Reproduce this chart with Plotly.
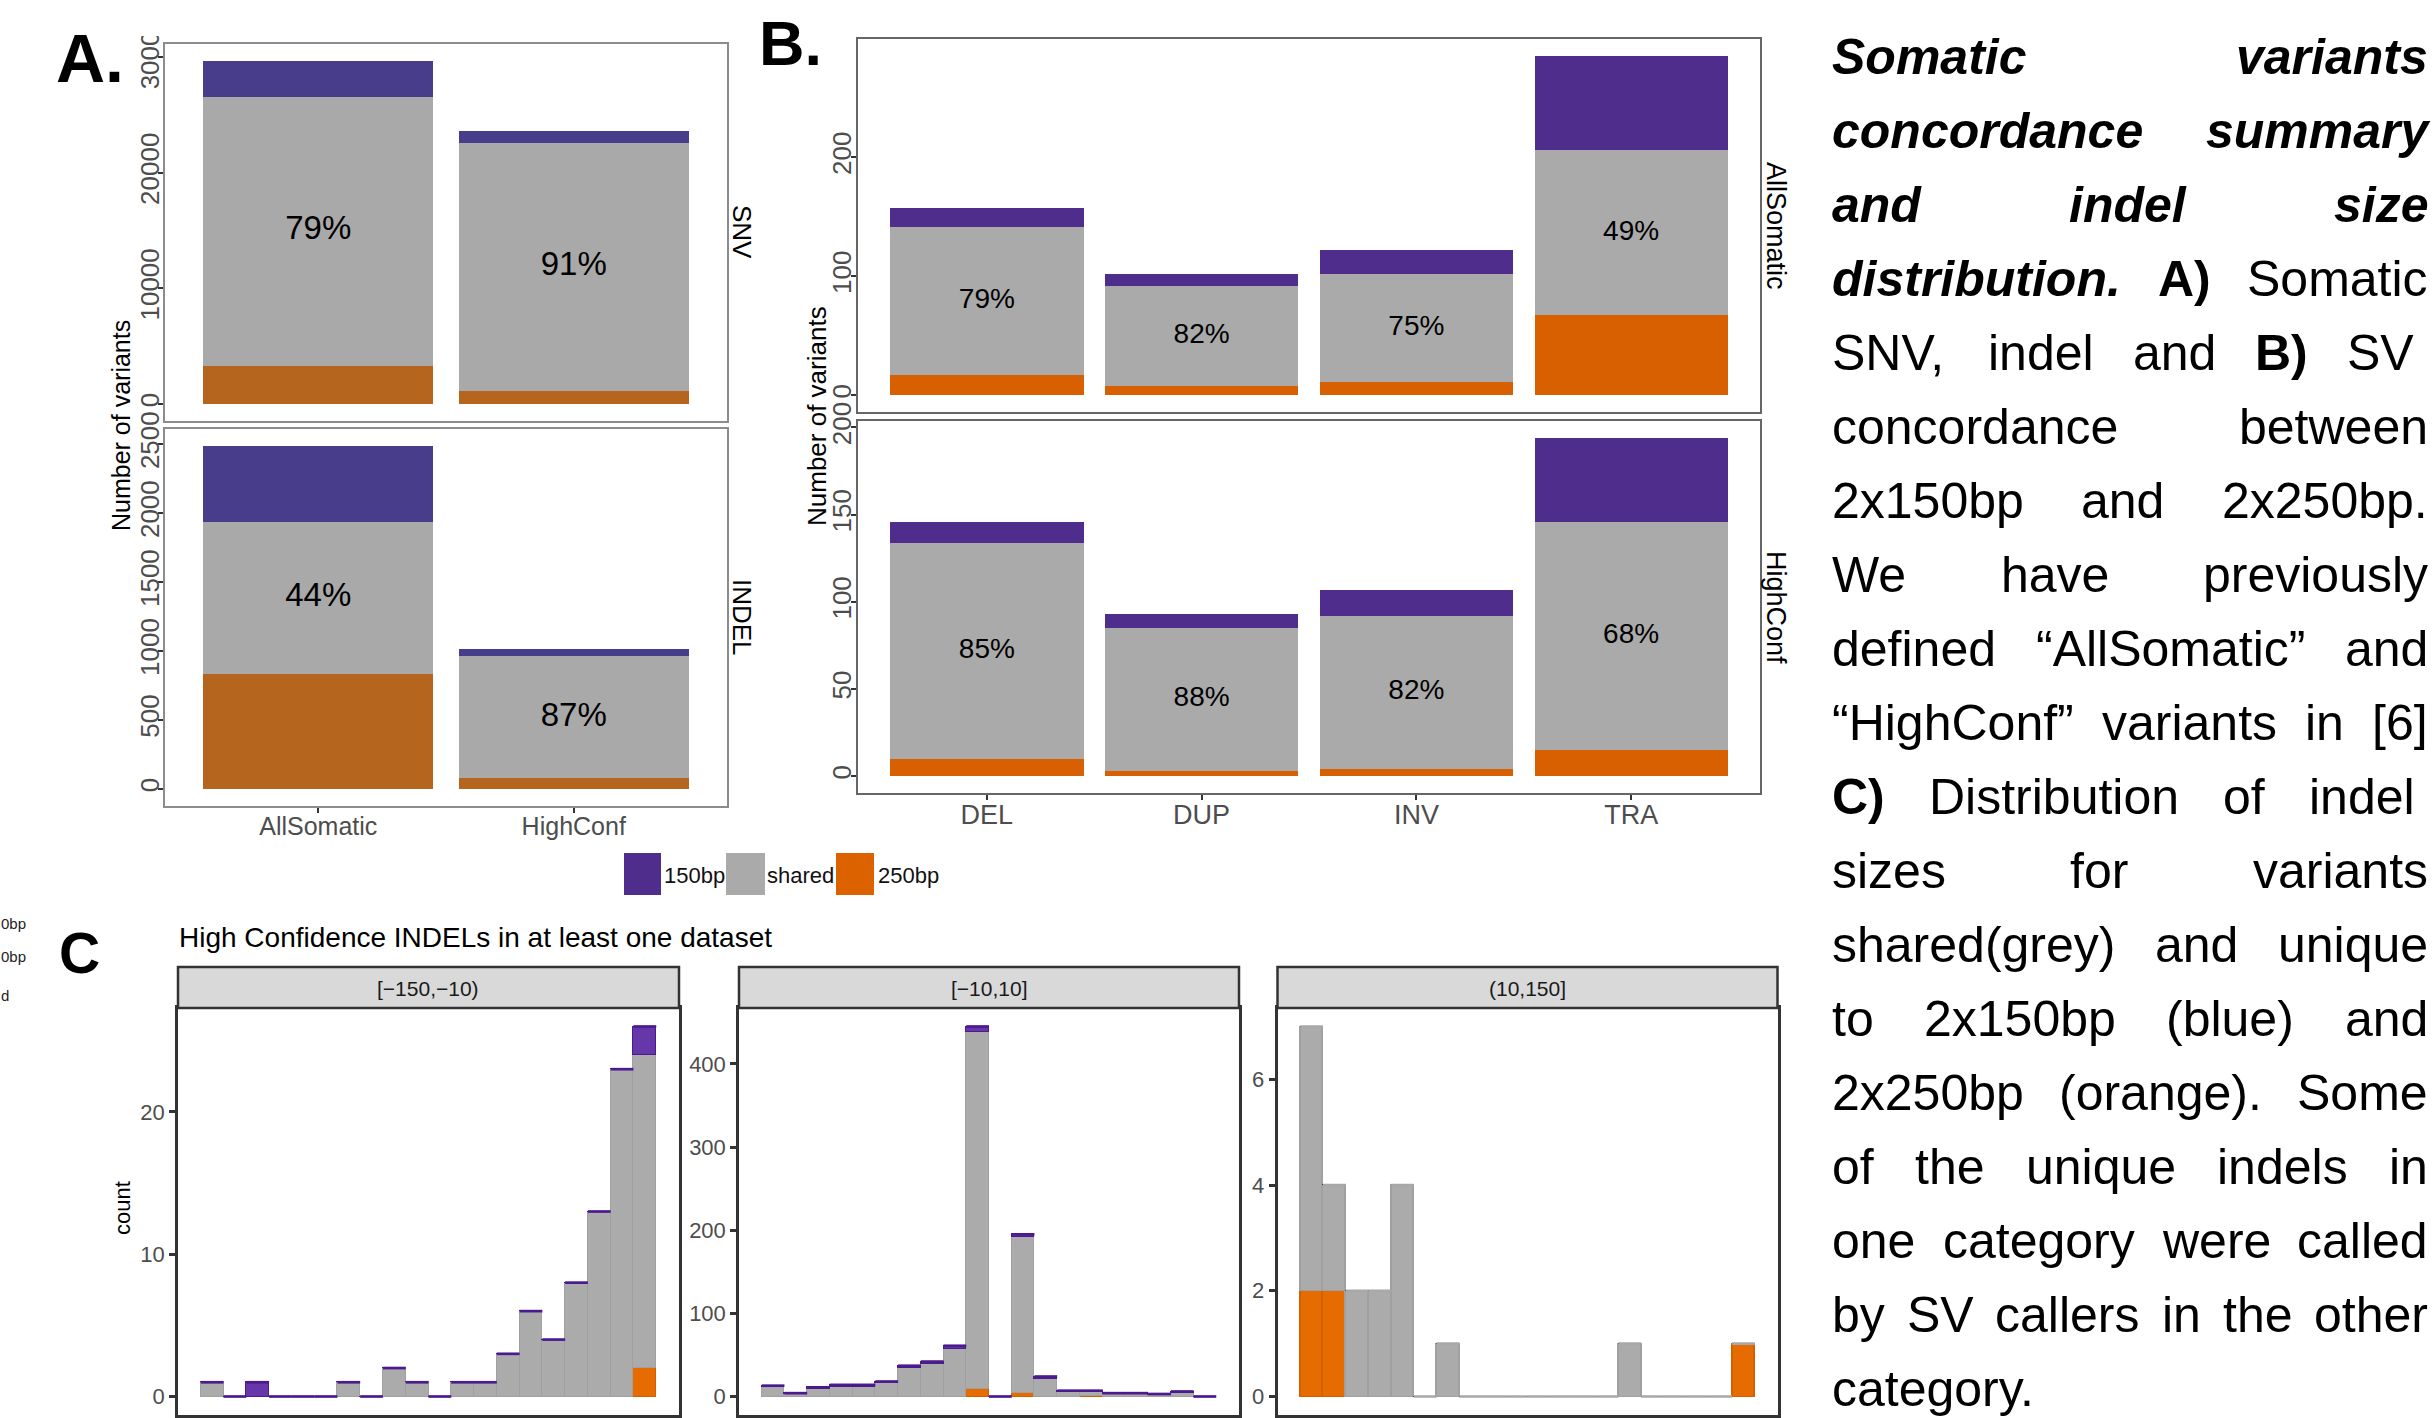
import plotly.graph_objects as go

W, H = 2433, 1418
FONT = "Liberation Sans, Arial, Helvetica, sans-serif"

# ---------------- data: panel A (SNV / INDEL concordance) ----------------
A_cats = ["AllSomatic", "HighConf"]
A_snv_250 = [3290, 1125]
A_snv_shared = [23290, 21425]
A_snv_150 = [3070, 1066]
A_snv_pct = ["79%", "91%"]
A_indel_250 = [835, 77]
A_indel_shared = [1098, 884]
A_indel_150 = [552, 53]
A_indel_pct = ["44%", "87%"]
A_snv_ticks = [0, 10000, 20000, 30000]
A_indel_ticks = [0, 500, 1000, 1500, 2000, 2500]

# ---------------- data: panel B (SV concordance) ----------------
B_cats = ["DEL", "DUP", "INV", "TRA"]
B_all_250 = [17, 8, 11, 67]
B_all_shared = [124, 84, 91, 139]
B_all_150 = [16, 10, 20, 79]
B_all_pct = ["79%", "82%", "75%", "49%"]
B_hc_250 = [10, 3, 4, 15]
B_hc_shared = [124, 82, 88, 131]
B_hc_150 = [12, 8, 15, 48]
B_hc_pct = ["85%", "88%", "82%", "68%"]
B_all_ticks = [0, 100, 200, 300]
B_hc_ticks = [0, 50, 100, 150, 200]

# ---------------- data: panel C (indel size histograms, 20 bins each) ----------------
C1_label = "[\u2212150,\u221210)"
C1_start, C1_width = -149, 7.1
C1_250 = [0, 0, 0, 0, 0, 0, 0, 0, 0, 0, 0, 0, 0, 0, 0, 0, 0, 0, 0, 2]
C1_shared = [1, 0, 0, 0, 0, 0, 1, 0, 2, 1, 0, 1, 1, 3, 6, 4, 8, 13, 23, 22]
C1_150 = [0, 0, 1, 0, 0, 0, 0, 0, 0, 0, 0, 0, 0, 0, 0, 0, 0, 0, 0, 2]
C1_ticks = [-150, -120, -90, -60, -30]
C1_yticks = [0, 10, 20]

C2_label = "[\u221210,10]"
C2_start, C2_width = -10, 1
C2_250 = [0, 0, 0, 0, 0, 0, 0, 0, 0, 9, 0, 4, 0, 0, 1, 0, 0, 0, 0, 0]
C2_shared = [11, 3, 9, 12, 12, 16, 34, 39, 57, 429, 0, 188, 21, 6, 5, 3, 3, 2, 4, 0]
C2_150 = [2, 1, 2, 2, 2, 2, 3, 3, 4, 7, 0, 3, 3, 1, 1, 1, 1, 1, 2, 0]
C2_ticks = [-10, -5, 0, 5, 10]
C2_yticks = [0, 100, 200, 300, 400]

C3_label = "(10,150]"
C3_start, C3_width = 14, 7.3
C3_250 = [2, 2, 0, 0, 0, 0, 0, 0, 0, 0, 0, 0, 0, 0, 0, 0, 0, 0, 0, 1]
C3_shared = [5, 2, 2, 2, 4, 0, 1, 0, 0, 0, 0, 0, 0, 0, 1, 0, 0, 0, 0, 0]
C3_150 = [0] * 20
C3_ticks = [40, 80, 120, 160]
C3_yticks = [0, 2, 4, 6]

LEGEND_LABELS = ["150bp", "shared", "250bp"]
C_TITLE = "High Confidence INDELs in at least one dataset"

CAPTION = [
    [("Somatic", "bi"), ("variants", "bi")],
    [("concordance", "bi"), ("summary", "bi")],
    [("and", "bi"), ("indel", "bi"), ("size", "bi")],
    [("distribution.", "bi"), ("A)", "b"), ("Somatic", "r")],
    [("SNV,", "r"), ("indel", "r"), ("and", "r"), ("B)", "b"), ("SV", "r")],
    [("concordance", "r"), ("between", "r")],
    [("2x150bp", "r"), ("and", "r"), ("2x250bp.", "r")],
    [("We", "r"), ("have", "r"), ("previously", "r")],
    [("defined", "r"), ("\u201cAllSomatic\u201d", "r"), ("and", "r")],
    [("\u201cHighConf\u201d", "r"), ("variants", "r"), ("in", "r"), ("[6]", "r")],
    [("C)", "b"), ("Distribution", "r"), ("of", "r"), ("indel", "r")],
    [("sizes", "r"), ("for", "r"), ("variants", "r")],
    [("shared(grey)", "r"), ("and", "r"), ("unique", "r")],
    [("to", "r"), ("2x150bp", "r"), ("(blue)", "r"), ("and", "r")],
    [("2x250bp", "r"), ("(orange).", "r"), ("Some", "r")],
    [("of", "r"), ("the", "r"), ("unique", "r"), ("indels", "r"), ("in", "r")],
    [("one", "r"), ("category", "r"), ("were", "r"), ("called", "r")],
    [("by", "r"), ("SV", "r"), ("callers", "r"), ("in", "r"), ("the", "r"), ("other", "r")],
    [("category.", "r")],
]
TRAILING_SPACE_LINES = [4, 10]

# ---------------- styles ----------------
A_COL = ["#B5651D", "#A9A9A9", "#483D8B"]
B_COL = ["#D96000", "#AAAAAA", "#4F2D8C"]
C_COL = ["#E66B00", "#ABABAB", "#6537A8"]
C_LINE = ["#D45F00", "#A0A0A0", "#4B1A8E"]
LEG_COL = ["#4F2D8C", "#AAAAAA", "#DC6200"]


def px_x(p):
    return p / W


def px_y(p):
    return 1 - p / H


fig = go.Figure()
annotations = []
shapes = []


def ann(text, x, y, size, color="black", xanchor="center", yanchor="middle", angle=0):
    annotations.append(dict(text=text, x=px_x(x), y=px_y(y), xref="paper", yref="paper",
                            showarrow=False, xanchor=xanchor, yanchor=yanchor, textangle=angle,
                            borderpad=0, font=dict(size=size, color=color, family=FONT)))


def stacked(ax, cats, layers, colors, pct, pct_size):
    xa, ya = ax
    for vals, col in zip(layers, colors):
        fig.add_trace(go.Bar(x=cats, y=vals, width=0.9, marker=dict(color=col, line=dict(width=0)),
                             xaxis=xa, yaxis=ya, showlegend=False, hoverinfo="skip"))
    ymid = [o + s / 2 for o, s in zip(layers[0], layers[1])]
    fig.add_trace(go.Scatter(x=cats, y=ymid, mode="text", text=pct,
                             textfont=dict(size=pct_size, color="black", family=FONT),
                             xaxis=xa, yaxis=ya, showlegend=False, hoverinfo="skip"))
    totals = [a + b + c for a, b, c in zip(*layers)]
    return max(totals)


def hist(ax, start, width, layers, top_color):
    xa, ya = ax
    centers = [start + width * i for i in range(len(layers[0]))]
    for vals, col, lc in zip(layers, C_COL, C_LINE):
        fig.add_trace(go.Bar(x=centers, y=vals, width=width,
                             marker=dict(color=col, line=dict(width=1.2, color=lc)),
                             xaxis=xa, yaxis=ya, showlegend=False, hoverinfo="skip"))
    totals = [a + b + c for a, b, c in zip(*layers)]
    lx, ly = [], []
    for c, t in zip(centers, totals):
        lx += [c - width / 2, c + width / 2, None]
        ly += [t, t, None]
    fig.add_trace(go.Scatter(x=lx, y=ly, mode="lines", line=dict(color=top_color, width=2.7),
                             xaxis=xa, yaxis=ya, showlegend=False, hoverinfo="skip"))
    return max(totals), centers


# ---- panel A
mA1 = stacked(("x", "y"), A_cats, [A_snv_250, A_snv_shared, A_snv_150], A_COL, A_snv_pct, 33)
mA2 = stacked(("x2", "y2"), A_cats, [A_indel_250, A_indel_shared, A_indel_150], A_COL, A_indel_pct, 33)
# ---- panel B
mB1 = stacked(("x3", "y3"), B_cats, [B_all_250, B_all_shared, B_all_150], B_COL, B_all_pct, 28)
mB2 = stacked(("x4", "y4"), B_cats, [B_hc_250, B_hc_shared, B_hc_150], B_COL, B_hc_pct, 28)
# ---- panel C
mC1, c1 = hist(("x5", "y5"), C1_start, C1_width, [C1_250, C1_shared, C1_150], "#4B1A8E")
mC2, c2 = hist(("x6", "y6"), C2_start, C2_width, [C2_250, C2_shared, C2_150], "#4B1A8E")
mC3, c3 = hist(("x7", "y7"), C3_start, C3_width, [C3_250, C3_shared, C3_150], "#A8A8A8")


def yax(dom, m, ticks, anchor, angle, size, lc, lw, tl, standoff=0, color="#4D4D4D"):
    return dict(domain=[px_y(dom[1]), px_y(dom[0])], range=[-0.05 * m, 1.05 * m], anchor=anchor,
                tickvals=ticks, ticktext=[str(t) for t in ticks], tickangle=angle,
                tickfont=dict(size=size, color=color, family=FONT), ticks="outside", ticklen=tl,
                tickwidth=lw, tickcolor="#333333", showline=True, mirror=True, linecolor=lc,
                linewidth=lw, showgrid=False, zeroline=False, automargin=False, fixedrange=True,
                ticklabelstandoff=standoff)


def xcat(dom, n, anchor, labels, size, lc, lw):
    return dict(domain=[px_x(dom[0]), px_x(dom[1])], type="category", range=[-0.6, n - 0.4],
                anchor=anchor, showticklabels=labels, ticks="outside" if labels else "",
                ticklen=5, tickwidth=1.5, tickcolor="#333333", ticklabelstandoff=-8,
                tickfont=dict(size=size, color="#4D4D4D", family=FONT),
                showline=True, mirror=True, linecolor=lc, linewidth=lw, showgrid=False,
                zeroline=False, automargin=False, fixedrange=True)


def xnum(dom, start, width, n, ticks, anchor):
    lo = start - 1.5 * width
    hi = start + (n + 0.5) * width
    # tick labels fall below the cropped bottom edge of the source, so only the marks show
    return dict(domain=[px_x(dom[0]), px_x(dom[1])], range=[lo, hi], anchor=anchor,
                tickvals=ticks, showticklabels=False, ticks="outside", ticklen=6,
                tickwidth=2, tickcolor="#333333",
                showline=True, mirror=True, linecolor="#333333", linewidth=2.5, showgrid=False,
                zeroline=False, automargin=False, fixedrange=True)


AX = (165, 727)
BX = (858, 1760)
C1X, C2X, C3X = (178, 679), (739, 1239), (1277.5, 1777.5)
CY = (1008, 1415)
A_LC, B_LC = "#8C8C8C", "#666666"

layout = dict(
    width=W, height=H, margin=dict(l=0, r=0, t=0, b=0), template="none",
    paper_bgcolor="white", plot_bgcolor="white", barmode="stack", bargap=0, showlegend=False,
    xaxis=xcat(AX, 2, "y", False, 25, A_LC, 1.5),
    yaxis=yax((44, 421), mA1, A_snv_ticks, "x", -90, 26, A_LC, 1.5, 5, -11),
    xaxis2=xcat(AX, 2, "y2", True, 25, A_LC, 1.5),
    yaxis2=yax((429, 806), mA2, A_indel_ticks, "x2", -90, 26, A_LC, 1.5, 5, -11),
    xaxis3=xcat(BX, 4, "y3", False, 27, B_LC, 1.5),
    yaxis3=yax((39, 412), mB1, B_all_ticks, "x3", -90, 26, B_LC, 1.5, 5, -10),
    xaxis4=xcat(BX, 4, "y4", True, 27, B_LC, 1.5),
    yaxis4=yax((421, 793), mB2, B_hc_ticks, "x4", -90, 26, B_LC, 1.5, 5, -10),
    xaxis5=xnum(C1X, C1_start, C1_width, 20, C1_ticks, "y5"),
    yaxis5=yax(CY, mC1, C1_yticks, "x5", 0, 22, "#333333", 2.5, 6),
    xaxis6=xnum(C2X, C2_start, C2_width, 20, C2_ticks, "y6"),
    yaxis6=yax(CY, mC2, C2_yticks, "x6", 0, 22, "#333333", 2.5, 6),
    xaxis7=xnum(C3X, C3_start, C3_width, 20, C3_ticks, "y7"),
    yaxis7=yax(CY, mC3, C3_yticks, "x7", 0, 22, "#333333", 2.5, 6),
)

# ---- panel labels and titles
ann("<b>A.</b>", 55, 58, 68, xanchor="left")
ann("<b>B.</b>", 758, 43, 63, xanchor="left")
ann("<b>C</b>", 58, 953, 57, xanchor="left")
ann("Number of variants", 121, 425, 25, angle=-90)
ann("Number of variants", 817, 416, 26, angle=-90)
ann("count", 122, 1208, 22, angle=-90)
ann("SNV", 742, 232, 26, angle=90)
ann("INDEL", 742, 617, 26, angle=90)
ann("AllSomatic", 1776, 226, 27, angle=90)
ann("HighConf", 1776, 607, 27, angle=90)
ann(C_TITLE, 178, 937, 28, xanchor="left")

# cropped remnant of another legend at the far left
for t, yy in zip(["0bp", "0bp", "d"], [923, 957, 995]):
    ann(t, 0, yy, 15, color="#222222", xanchor="left")

# white cover where the top tick label was cropped in the source
shapes.append(dict(type="rect", xref="paper", yref="paper", x0=px_x(120), x1=px_x(180),
                   y0=px_y(36), y1=px_y(0), fillcolor="white", line=dict(width=0), layer="above"))

# ---- facet strips for panel C
for (x0, x1), lab in zip([C1X, C2X, C3X], [C1_label, C2_label, C3_label]):
    shapes.append(dict(type="rect", xref="paper", yref="paper", x0=px_x(x0), x1=px_x(x1),
                       y0=px_y(1008), y1=px_y(967), fillcolor="#D9D9D9",
                       line=dict(color="#333333", width=2.5), layer="above"))
    ann(lab, (x0 + x1) / 2, 988, 21, color="#1A1A1A")

# ---- shared legend (drawn keys)
key_x = [(624, 661), (726, 765), (836, 874)]
text_x = [663, 766, 877]
for (k0, k1), tx, col, lab in zip(key_x, text_x, LEG_COL, LEGEND_LABELS):
    shapes.append(dict(type="rect", xref="paper", yref="paper", x0=px_x(k0), x1=px_x(k1),
                       y0=px_y(895), y1=px_y(853), fillcolor=col, line=dict(width=0)))
    ann(lab, tx, 875, 22, color="#111111", xanchor="left")

# ---- justified caption on the right
W_REG = {' ': 278, '(': 333, ')': 333, ',': 278, '.': 278, '[': 278, ']': 278,
         '\u201c': 333, '\u201d': 333, '-': 333}
for ch in "0123456789":
    W_REG[ch] = 556
W_REG.update({'A': 667, 'B': 667, 'C': 722, 'D': 722, 'E': 667, 'F': 611, 'G': 778, 'H': 722,
              'I': 278, 'L': 556, 'M': 833, 'N': 722, 'O': 778, 'S': 667, 'V': 667, 'W': 944})
W_REG.update(dict(zip("abcdefghijklmnopqrstuvwxyz",
                      [556, 556, 500, 556, 556, 278, 556, 556, 222, 222, 500, 222, 833, 556, 556,
                       556, 556, 333, 500, 278, 556, 500, 722, 500, 500, 500])))
W_BOLD = {' ': 278, '(': 333, ')': 333, ',': 278, '.': 278, 'A': 722, 'B': 722, 'C': 722, 'S': 667}
W_BOLD.update(dict(zip("abcdefghijklmnopqrstuvwxyz",
                       [556, 611, 556, 611, 556, 333, 611, 611, 278, 278, 556, 278, 889, 611, 611,
                        611, 611, 389, 556, 333, 611, 556, 778, 556, 556, 500])))

CAP_SIZE = 50
CAP_LEFT, CAP_RIGHT = 1831, 2427
CAP_TOP, CAP_STEP = 57, 74


def word_w(word, style):
    table = W_REG if style == "r" else W_BOLD
    return sum(table.get(ch, 556) for ch in word) / 1000 * CAP_SIZE


for i, line in enumerate(CAPTION):
    yy = CAP_TOP + i * CAP_STEP
    widths = [word_w(w, s) for w, s in line]
    right = CAP_RIGHT - (0.278 * CAP_SIZE if i in TRAILING_SPACE_LINES else 0)
    if len(line) == 1:
        gap = 0.278 * CAP_SIZE
    else:
        gap = (right - CAP_LEFT - sum(widths)) / (len(line) - 1)
    xx = CAP_LEFT
    for (w, s), wd in zip(line, widths):
        txt = w if s == "r" else ("<b>" + w + "</b>" if s == "b" else "<b><i>" + w + "</i></b>")
        ann(txt, xx, yy, CAP_SIZE, color="black", xanchor="left")
        xx += wd + gap

layout["annotations"] = annotations
layout["shapes"] = shapes
fig.update_layout(**layout)
fig.write_html("out.html", config={"displayModeBar": False},
               post_script="document.body.style.margin='0';document.body.style.overflow='hidden';")
